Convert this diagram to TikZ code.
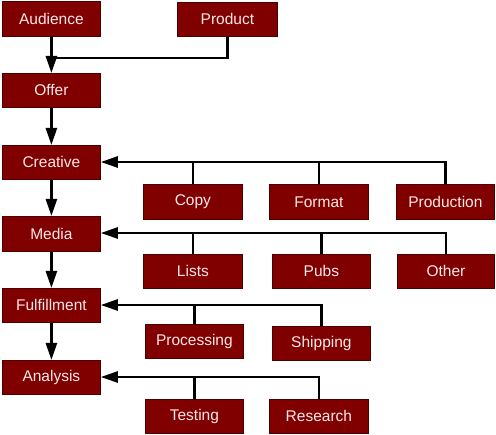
\documentclass[tikz,border=0pt]{standalone}
\usepackage{fontspec}
\setmainfont{Liberation Sans}
\usetikzlibrary{arrows.meta}
\definecolor{boxred}{HTML}{800000}
\definecolor{boxedge}{HTML}{4A0000}
\definecolor{boxtext}{HTML}{FCE8E8}
\begin{document}
\begin{tikzpicture}[x=1pt,y=-1pt,
  bx/.style={draw=boxedge, line width=0.8pt, fill=boxred, text=boxtext, font=\fontsize{15.5}{17}\selectfont},
  conn/.style={line width=2.5pt, black},
  arr/.style={conn, -{Triangle[length=17pt,width=11pt]}}]
\useasboundingbox (0,0) rectangle (496,435);
\newcommand{\bxat}[6]{\node[bx, minimum width=#4-#2, minimum height=#5-#3, inner sep=0pt, anchor=north west] (#1) at (#2,#3) {#6};}
\bxat{aud}{2}{1}{100}{36}{Audience}
\bxat{prod}{177}{2}{277}{36}{Product}
\bxat{off}{2}{73}{100}{107}{Offer}
\bxat{cre}{2}{145}{100}{179}{Creative}
\bxat{med}{2}{216}{100}{251}{Media}
\bxat{ful}{2}{288}{100}{322}{Fulfillment}
\bxat{ana}{2}{360}{100}{394}{Analysis}
\bxat{copy}{143}{184}{242}{219}{Copy}
\bxat{form}{269}{184}{368}{219}{Format}
\bxat{prodn}{396}{184}{494}{219}{Production}
\bxat{lists}{143}{254}{242}{288}{Lists}
\bxat{pubs}{272}{254}{370}{288}{Pubs}
\bxat{oth}{397}{254}{494}{288}{Other}
\bxat{proc}{145}{324}{243}{358}{Processing}
\bxat{ship}{272}{326}{370}{360}{Shipping}
\bxat{test}{145}{399}{243}{433}{Testing}
\bxat{res}{269}{399}{368}{433}{Research}
% top
\draw[arr] (aud.south) -- (off.north);
\draw[conn] (prod.south) |- (aud.south |- 0,58) -- ++(-1.25,0);
\draw[arr] (off.south) -- (cre.north);
\draw[arr] (cre.south) -- (med.north);
\draw[arr] (med.south) -- (ful.north);
\draw[arr] (ful.south) -- (ana.north);
% creative branch
\coordinate (c1) at (445,162);
\draw[conn] (prodn.north) |- (c1);
\draw[arr] (c1) -- (cre.east |- c1);
\draw[conn] (copy.north) -- (copy.north |- c1);
\draw[conn] (form.north) -- (form.north |- c1);
% media branch
\coordinate (m1) at (445,233);
\draw[conn] (oth.north) |- (m1);
\draw[arr] (m1) -- (med.east |- m1);
\draw[conn] (lists.north) -- (lists.north |- m1);
\draw[conn] (pubs.north) -- (pubs.north |- m1);
% fulfillment branch
\coordinate (f1) at (321,305);
\draw[conn] (ship.north) |- (f1);
\draw[arr] (f1) -- (ful.east |- f1);
\draw[conn] (proc.north) -- (proc.north |- f1);
% analysis branch
\coordinate (a1) at (319,377);
\draw[conn] (res.north) |- (a1);
\draw[arr] (a1) -- (ana.east |- a1);
\draw[conn] (test.north) -- (test.north |- a1);
\end{tikzpicture}
\end{document}
